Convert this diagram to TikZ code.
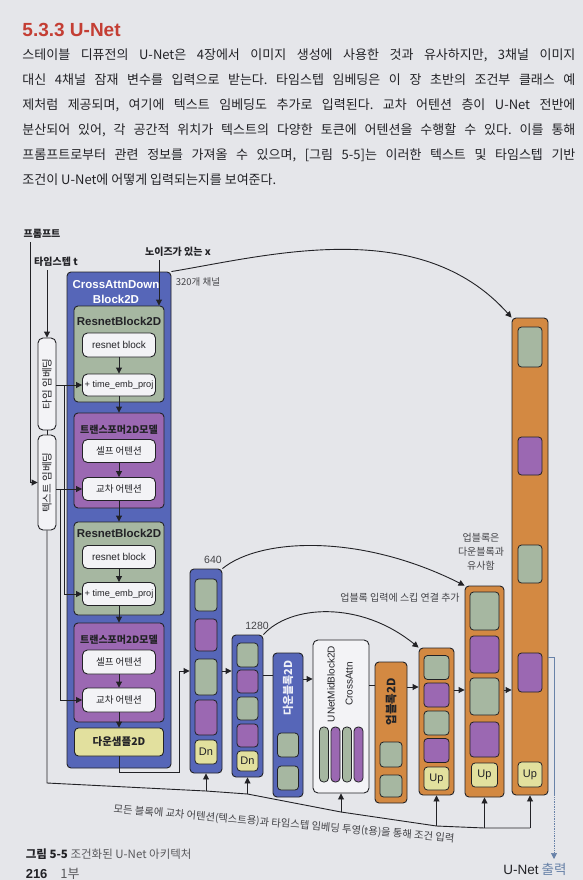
\documentclass[tikz,border=0pt]{standalone}
\usepackage{fontspec}
\setmainfont{Noto Sans CJK KR}
\newfontfamily\arial{Liberation Sans}
\usepackage{xcolor}
\definecolor{paper}{RGB}{229,230,234}
\definecolor{ublue}{RGB}{86,102,184}
\definecolor{usage}{RGB}{166,183,161}
\definecolor{upurple}{RGB}{155,104,178}
\definecolor{uyellow}{RGB}{226,224,158}
\definecolor{uorange}{RGB}{211,137,66}
\definecolor{uwhite}{RGB}{243,243,246}
\definecolor{ured}{RGB}{196,62,52}
\definecolor{uink}{RGB}{34,34,38}
\definecolor{uout}{RGB}{104,130,168}
\usepackage{tikz}
\usetikzlibrary{arrows.meta}
\newcommand{\fsz}[1]{\fontsize{#1}{1.3\dimexpr#1pt\relax}\selectfont}
\frenchspacing

\begin{document}
\begin{tikzpicture}[x=1pt, y=-1pt, color=uink, line width=0.9pt,
  blk/.style={draw=uink, line width=0.9pt, rounded corners=4pt, inner sep=0pt},
  bluebox/.style={blk, fill=ublue},
  greenbox/.style={blk, fill=usage, minimum width=90},
  purplebox/.style={blk, fill=upurple, minimum width=90},
  orangebox/.style={blk, fill=uorange},
  whitebox/.style={blk, fill=uwhite, rounded corners=5pt, minimum width=73, font=\fsz{9.5}},
  cell/.style={blk, rounded corners=3.5pt, line width=0.8pt},
  tag/.style={cell, fill=uyellow, font=\arial\fsz{11}},
  boxtitle/.style={font=\fsz{10}\bfseries},
  lbl/.style={font=\fsz{10}\bfseries},
  note/.style={font=\fsz{10}, text=uink!85},
  body/.style={font=\fsz{13}, anchor=west, inner sep=0pt},
  arr/.style={-{Triangle[length=6pt, width=6pt]}}
]
\fill[paper] (0,0) rectangle (583,880);
\useasboundingbox (0,0) rectangle (583,880);

% page text
\node[font=\arial\fsz{19}\bfseries, text=ured, anchor=west, inner sep=0pt] (sec) at (22,30) {5.3.3 U-Net};
\node[body] (l1) at (22,55) {\makebox[553pt][s]{스테이블 디퓨전의 U-Net은 4장에서 이미지 생성에 사용한 것과 유사하지만, 3채널 이미지}};
\node[body] (l2) at (22,80) {\makebox[553pt][s]{대신 4채널 잠재 변수를 입력으로 받는다. 타임스텝 임베딩은 이 장 초반의 조건부 클래스 예}};
\node[body] (l3) at (22,105) {\makebox[553pt][s]{제처럼 제공되며, 여기에 텍스트 임베딩도 추가로 입력된다. 교차 어텐션 층이 U-Net 전반에}};
\node[body] (l4) at (22,130) {\makebox[553pt][s]{분산되어 있어, 각 공간적 위치가 텍스트의 다양한 토큰에 어텐션을 수행할 수 있다. 이를 통해}};
\node[body] (l5) at (22,155) {\makebox[553pt][s]{프롬프트로부터 관련 정보를 가져올 수 있으며, [그림 5-5]는 이러한 텍스트 및 타임스텝 기반}};
\node[body] (l6) at (22,180) {조건이 U-Net에 어떻게 입력되는지를 보여준다.};

% inputs
\node[lbl] (prompt) at (42,234) {프롬프트};
\node[lbl] (tstep) at (56,262) {타임스텝 t};
\node[lbl] (noise) at (178,252) {노이즈가 있는 x};
\node[blk, fill=uwhite, rounded corners=5pt, minimum width=18, minimum height=92, font=\fsz{10.5}] (temb) at (47,384) {\rotatebox{90}{타임 임베딩}};
\node[blk, fill=uwhite, rounded corners=5pt, minimum width=18, minimum height=95, font=\fsz{10.5}] (xemb) at (47,482.5) {\rotatebox{90}{텍스트 임베딩}};

% CrossAttnDownBlock2D
\node[bluebox, minimum width=104, minimum height=496] (cad) at (119,520) {};
\node[font=\arial\fsz{11.5}\bfseries, text=white, align=center] (cadt) at (116,292) {CrossAttnDown\\Block2D};
\node[greenbox, minimum height=96] (rn1) at (119,354) {};
\node[boxtitle, font=\arial\fsz{11.5}\bfseries] (rn1t) at (119,321) {ResnetBlock2D};
\node[whitebox, minimum height=24] (rb1) at (119,345) {\arial\fsz{10}resnet block};
\node[whitebox, minimum height=22] (te1) at (119,385) {\arial\fsz{9.2}+ time\_emb\_proj};
\node[purplebox, minimum height=95] (tf1) at (119,460.5) {};
\node[boxtitle] (tf1t) at (119,430) {트랜스포머2D모델};
\node[whitebox, minimum height=23] (sa1) at (119,451) {셀프 어텐션};
\node[whitebox, minimum height=23] (ca1) at (119,489) {교차 어텐션};
\node[greenbox, minimum height=93] (rn2) at (119,568.5) {};
\node[boxtitle, font=\arial\fsz{11.5}\bfseries] (rn2t) at (119,533) {ResnetBlock2D};
\node[whitebox, minimum height=23] (rb2) at (119,557) {\arial\fsz{10}resnet block};
\node[whitebox, minimum height=23] (te2) at (119,594) {\arial\fsz{9.2}+ time\_emb\_proj};
\node[purplebox, minimum height=99] (tf2) at (119,672.5) {};
\node[boxtitle] (tf2t) at (119,640) {트랜스포머2D모델};
\node[whitebox, minimum height=24] (sa2) at (119,662) {셀프 어텐션};
\node[whitebox, minimum height=24] (ca2) at (119,700) {교차 어텐션};
\node[blk, fill=uyellow, minimum width=89, minimum height=28, font=\fsz{10.5}\bfseries] (ds) at (119,742) {다운샘플2D};

% down path
\node[bluebox, minimum width=32, minimum height=204] (b640) at (206,671) {};
\foreach \yc/\hh/\cc [count=\i] in {595/32/usage, 635/32/upurple, 677/36/usage, 717.5/35/upurple}
  \node[cell, fill=\cc, minimum width=22, minimum height=\hh] (d1c\i) at (206,\yc) {};
\node[tag, minimum width=22, minimum height=24] (d1dn) at (206,752) {Dn};
\node[note, font=\arial\fsz{10.5}] (n640) at (213,560) {640};

\node[bluebox, minimum width=31, minimum height=142] (b1280) at (247.5,706) {};
\foreach \yc/\hh/\cc [count=\i] in {655/24/usage, 681.5/23/upurple, 708.5/23/usage, 735.5/23/upurple}
  \node[cell, fill=\cc, minimum width=21, minimum height=\hh] (d2c\i) at (247.5,\yc) {};
\node[tag, minimum width=21, minimum height=20] (d2dn) at (247.5,761) {Dn};
\node[note, font=\arial\fsz{10.5}] (n1280) at (257,626) {1280};

\node[bluebox, minimum width=30, minimum height=144] (dnb) at (288,725) {};
\node[font=\fsz{11}\bfseries, text=white!90!ublue] (dnbt) at (288,688) {\rotatebox{90}{다운블록2D}};
\foreach \yc [count=\i] in {745,778}
  \node[cell, fill=usage, minimum width=21, minimum height=24] (d3c\i) at (288,\yc) {};

% middle
\node[blk, fill=uwhite, rounded corners=5pt, minimum width=56, minimum height=153] (mid) at (341,716.5) {};
\node[font=\arial\fsz{10}] (midt) at (341,684) {\rotatebox{90}{\begin{tabular}{@{}c@{}}UNetMidBlock2D\\[5pt]CrossAttn\end{tabular}}};
\foreach \xc/\cc [count=\i] in {324/usage, 335.5/upurple, 347/usage, 358.5/upurple}
  \node[cell, rounded corners=4pt, fill=\cc, minimum width=9, minimum height=55] (mc\i) at (\xc,754.5) {};

% up path
\node[orangebox, minimum width=32, minimum height=141] (upb) at (391,732.5) {};
\node[font=\fsz{11.5}\bfseries] (upbt) at (391,702) {\rotatebox{90}{업블록2D}};
\foreach \yc/\hh [count=\i] in {754.5/25, 786/22}
  \node[cell, fill=usage, minimum width=22, minimum height=\hh] (u0c\i) at (391,\yc) {};

\node[orangebox, minimum width=35, minimum height=147] (up1) at (436.5,721.5) {};
\foreach \yc/\cc [count=\i] in {667.5/usage, 695/upurple, 723/usage, 750.5/upurple}
  \node[cell, fill=\cc, minimum width=25, minimum height=24] (u1c\i) at (436.5,\yc) {};
\node[tag, minimum width=25, minimum height=23] (u1up) at (436.5,778.5) {Up};

\node[orangebox, minimum width=39, minimum height=211] (up2) at (484.5,691.5) {};
\foreach \yc/\hh/\cc [count=\i] in {611/38/usage, 654.5/37/upurple, 696.5/37/usage, 739.5/35/upurple}
  \node[cell, fill=\cc, minimum width=29, minimum height=\hh] (u2c\i) at (484.5,\yc) {};
\node[tag, minimum width=26, minimum height=24] (u2up) at (484.5,775) {Up};

\node[orangebox, minimum width=36, minimum height=477] (up3) at (530,556.5) {};
\foreach \yc/\hh/\cc [count=\i] in {347/40/usage, 456/38/upurple, 564/38/usage, 672.5/39/upurple}
  \node[cell, fill=\cc, minimum width=24, minimum height=\hh] (u3c\i) at (530,\yc) {};
\node[tag, minimum width=24, minimum height=25] (u3up) at (530,774.5) {Up};

% labels
\node[note, font=\fsz{9.5}] (ch) at (198,282) {320개 채널};
\node[note] (skip) at (400,598) {업블록 입력에 스킵 연결 추가};
\node[note, align=center] (sim) at (481,552) {업블록은\\[1pt]다운블록과\\[1pt]유사함};
\node[font=\fsz{13.5}, anchor=north] (outl) at (535,859) {{\arial U-Net} \textcolor{uout}{출력}};
\node[font=\fsz{10.3}, text=uink!85] (bust) at (284,824) {\rotatebox{-5}{모든 블록에 교차 어텐션(텍스트용)과 타임스텝 임베딩 투영(t용)을 통해 조건 입력}};
\node[anchor=west, font=\fsz{11.5}] (cap) at (22,854) {\textbf{그림 5-5} \textcolor{uink!75}{조건화된 U-Net 아키텍처}};
\node[anchor=west, font=\fsz{13}] (pg) at (22,874) {{\arial\bfseries 216}\quad\textcolor{uink!75}{1부}};

% embeddings
\draw[arr] (prompt.south -| 30,0) |- (xemb.west);
\draw[arr] (tstep.south -| temb.north) -- (temb.north);
\draw (temb.south) -- (xemb.north);
\draw[arr] (noise.south -| 159,0) -- (159,0 |- rn1.north);
\draw[arr] (temb.east |- te1.west) -- (te1.west);
\draw[arr] (te1.west -| 64,0) |- (te2.west);
\draw[arr] (xemb.east |- ca1.west) -- (ca1.west);
\draw[arr] (ca1.west -| 60,0) |- (ca2.west);

% inside the down block
\draw[arr] (rb1) -- (te1);
\draw[arr] (te1) -- (tf1);
\draw[arr] (sa1) -- (ca1);
\draw[arr] (ca1) -- (rn2);
\draw[arr] (rb2) -- (te2);
\draw[arr] (te2) -- (tf2);
\draw[arr] (sa2) -- (ca2);
\draw[arr] (ca2) -- (ds);

% main chain
\coordinate (dc) at (179,772);
\draw[arr] (ds.south) |- (dc) |- (b640.west);
\draw[arr] (b640.east) -- (b640.east -| b1280.west);
\draw (b1280.east |- 0,675) -- (dnb.west |- 0,675);
\draw[arr] (dnb.east |- 0,679) -- (mid.west |- 0,679);
\draw (mid.east |- 0,685) -- (upb.west |- 0,685);
\draw[arr] (upb.east |- 0,687) -- (up1.west |- 0,687);
\draw[arr] (up1.east |- 0,690) -- (up2.west |- 0,690);
\draw[arr] (up2.east |- 0,690) -- (up3.west |- 0,690);

% skip connections
\draw[arr] (cad.north east) .. controls (270,255) and (420,215) .. (up3.north west);
\draw[arr] (b640.north east) .. controls (260,538) and (360,533) .. (up2.north west);
\draw[arr] (b1280.north east) .. controls (290,605) and (360,600) .. (up1.north west);

% conditioning bus
\coordinate (k0) at (47,783);
\coordinate (k1) at (206,791);
\coordinate (k2) at (247.5,794);
\coordinate (k3) at (341,812);
\coordinate (k4) at (436.5,826);
\coordinate (k5) at (484.5,828);
\coordinate (k6) at (530,828);
\draw (xemb.south) -- (k0) -- (k1) -- (k2) -- (k3) -- (k4) -- (k5) -- (k6);
\draw[arr] (k1) -- (b640.south);
\draw[arr] (k2) -- (b1280.south);
\draw[arr] (k3) -- (mid.south);
\draw[arr] (k4) -- (up1.south);
\draw[arr] (k5) -- (up2.south);
\draw[arr] (k6) -- (up3.south);

% output
\coordinate (ot) at (554,657);
\draw[uout, line width=0.7pt] (up3.east |- ot) -- (ot) -- (ot |- up3.south);
\draw[uout, line width=0.7pt, densely dotted, arr] (ot |- up3.south) -- (ot |- outl.north);
\end{tikzpicture}
\end{document}
